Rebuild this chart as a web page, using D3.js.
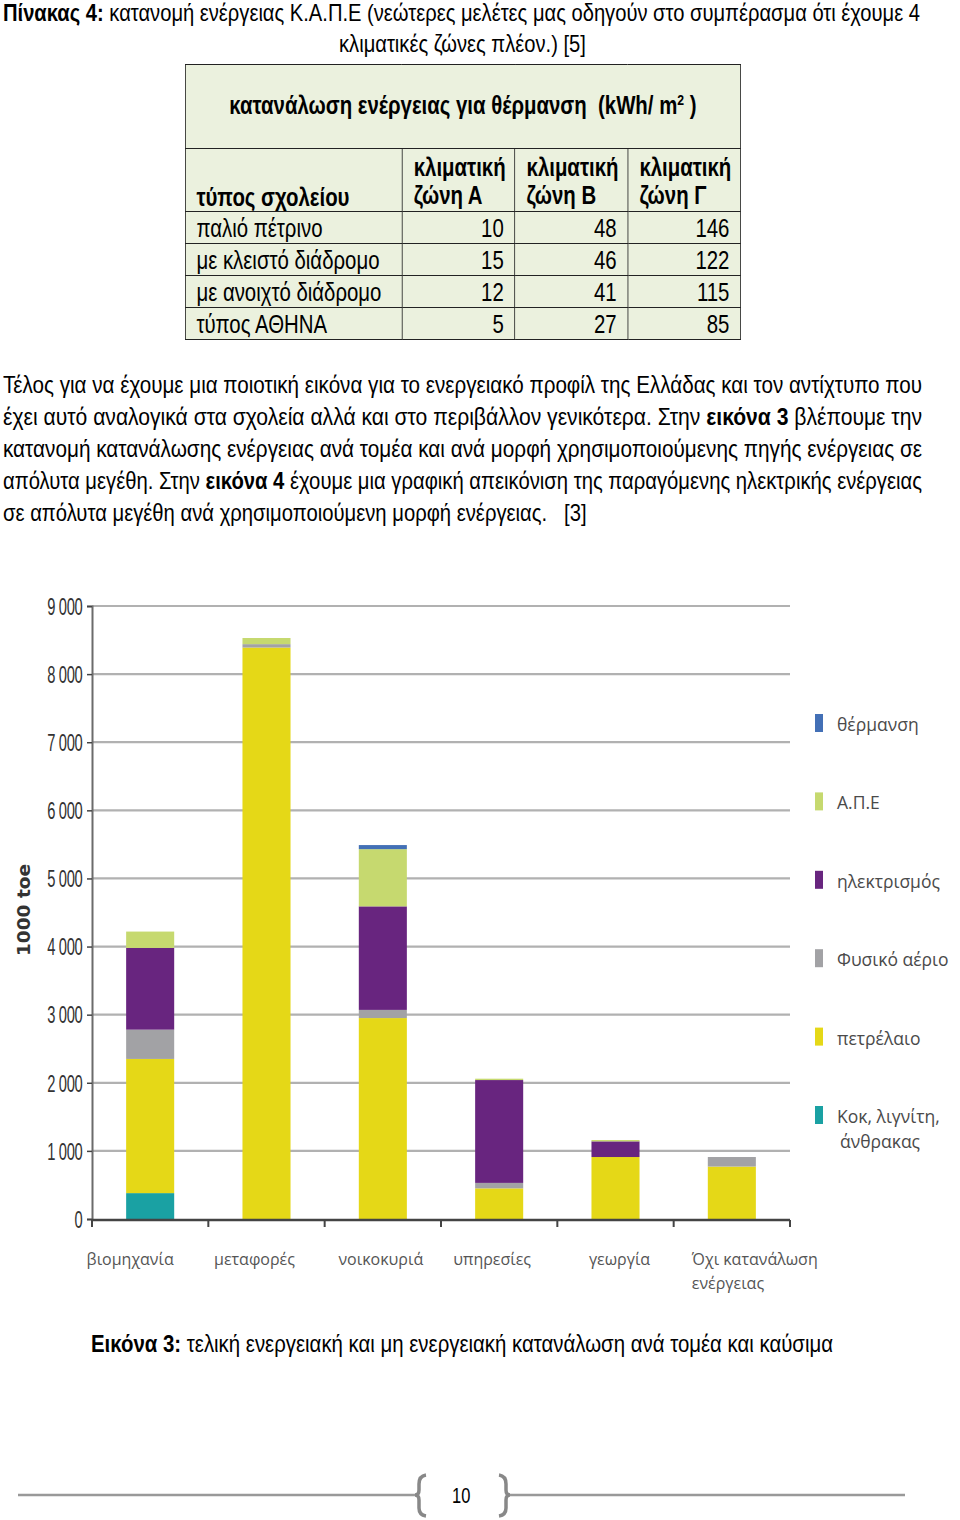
<!DOCTYPE html>
<html>
<head>
<meta charset="utf-8">
<script src="https://cdn.jsdelivr.net/npm/d3@7"></script>
<style>
body { margin:0; width:960px; height:1520px; position:relative; background:#fff; color:#000; overflow:hidden;
  font-family:"Liberation Sans",Arial,sans-serif; }
.line { position:absolute; white-space:nowrap; transform-origin:0 0; font-size:24px; line-height:30px; display:inline-block; }
.tbl { position:absolute; left:185px; top:64px; transform:scaleX(0.815); transform-origin:0 0; }
table { width:682px; border-collapse:collapse; background:#ebf1de; font-size:25px; }
td { border:1.5px solid #222; padding:0 13px; line-height:28px; white-space:nowrap; }
td.num { text-align:right; }
svg { position:absolute; left:0; top:0; }
</style>
</head>
<body>
<script>
// table 4 data
var schoolTypes = ["παλιό πέτρινο", "με κλειστό διάδρομο", "με ανοιχτό διάδρομο", "τύπος ΑΘΗΝΑ"];
var zoneHeads = ["ζώνη Α", "ζώνη Β", "ζώνη Γ"];
var zoneA = [10, 15, 12, 5];
var zoneB = [48, 46, 41, 27];
var zoneC = [146, 122, 115, 85];

// figure 3 data (1000 toe), stacked bottom to top
var sectors = ["βιομηχανία", "μεταφορές", "νοικοκυριά", "υπηρεσίες", "γεωργία", "Όχι κατανάλωση ενέργειας"];
var coal = [380, 0, 0, 0, 0, 0];
var oil = [1970, 8390, 2950, 450, 910, 770];
var gas = [430, 50, 120, 80, 0, 140];
var electricity = [1200, 0, 1520, 1510, 230, 0];
var renewables = [240, 90, 840, 20, 20, 0];
var heating = [0, 0, 60, 0, 0, 0];
var yTicks = [0, 1000, 2000, 3000, 4000, 5000, 6000, 7000, 8000, 9000];

var fuelKeys = ["coal", "oil", "gas", "electricity", "renewables", "heating"];
var fuelNames = ["Κοκ, λιγνίτη, άνθρακας", "πετρέλαιο", "Φυσικό αέριο", "ηλεκτρισμός", "Α.Π.Ε", "θέρμανση"];
var fuelColors = ["#1aa1a3", "#e5d817", "#a2a2a5", "#68257f", "#c6d96f", "#4370b6"];

var body = d3.select("body");

// squeeze a line of text so it fills the given width (word justified lines)
function addLine(html, left, top, target) {
  var s = body.append("span").attr("class", "line")
    .style("left", left + "px").style("top", top + "px").html(html);
  var w = s.node().getBoundingClientRect().width;
  if (target) s.style("transform", "scaleX(" + (target / w) + ")");
  return {sel: s, w: w, k: target ? target / w : 1};
}

// ---------- heading of table ----------
var t1 = addLine("<b>Πίνακας 4:</b> κατανομή ενέργειας Κ.Α.Π.Ε (νεώτερες μελέτες μας οδηγούν στο συμπέρασμα ότι έχουμε 4", 3, -2, 917);
var t2 = addLine("κλιματικές ζώνες πλέον.) [5]", 0, 29, null);
t2.sel.style("transform", "scaleX(" + t1.k + ")").style("left", (462 - t2.w * t1.k / 2) + "px");

// ---------- table ----------
var table = body.append("div").attr("class", "tbl").append("table");
table.append("tr").style("height", "84px")
  .append("td").attr("colspan", 4).style("text-align", "center").style("font-weight", "bold")
  .style("padding-bottom", "4px")
  .html("κατανάλωση ενέργειας για θέρμανση&nbsp; (kWh/ m<span style='font-size:15px;vertical-align:9px;line-height:0'>2</span> )");
var hr = table.append("tr").style("height", "63px").style("font-weight", "bold");
hr.append("td").style("vertical-align", "bottom").style("width", "240px").text("τύπος σχολείου");
hr.selectAll("td.z").data(zoneHeads).join("td").attr("class", "z")
  .style("vertical-align", "bottom").style("padding", "0 6px 2px 14px").style("width", "118px")
  .html(d => "κλιματική<br>" + d);
var rows = schoolTypes.map((s, i) => [s, zoneA[i], zoneB[i], zoneC[i]]);
table.selectAll("tr.r").data(rows).join("tr").attr("class", "r").style("height", "32px")
  .selectAll("td").data(d => d).join("td")
  .attr("class", (d, i) => i ? "num" : null)
  .text(d => d);

// ---------- paragraph ----------
var paraLines = [
  "Τέλος για να έχουμε μια ποιοτική εικόνα για το ενεργειακό προφίλ της Ελλάδας και τον αντίχτυπο που",
  "έχει αυτό αναλογικά στα σχολεία αλλά και στο περιβάλλον γενικότερα. Στην <b>εικόνα 3</b> βλέπουμε την",
  "κατανομή κατανάλωσης ενέργειας ανά τομέα και ανά μορφή χρησιμοποιούμενης πηγής ενέργειας σε",
  "απόλυτα μεγέθη. Στην <b>εικόνα 4</b> έχουμε μια γραφική απεικόνιση της παραγόμενης ηλεκτρικής ενέργειας",
  "σε απόλυτα μεγέθη ανά χρησιμοποιούμενη μορφή ενέργειας. &nbsp; [3]"
];
var ks = [];
paraLines.forEach(function(d, i) {
  var last = i == paraLines.length - 1;
  var l = addLine(d, 3, 370 + i * 32, last ? null : 919);
  if (!last) ks.push(l.k);
  else l.sel.style("transform", "scaleX(" + d3.min(ks) + ")");
});

// caption + page number
addLine("<b>Εικόνα 3:</b> τελική ενεργειακή και μη ενεργειακή κατανάλωση ανά τομέα και καύσιμα", 91, 1329, 742);
addLine("10", 452, 1481, 20).sel.style("font-size", "22px");

// ---------- chart ----------
var svg = body.append("svg").attr("width", 960).attr("height", 1520);

var x = d3.scaleBand().domain(sectors).range([92, 790]).paddingInner(0.587).paddingOuter(0.2935);
var y = d3.scaleLinear().domain([0, 9000]).range([1219, 606]);

// gridlines
svg.append("g").selectAll("line").data(yTicks.slice(1)).join("line")
  .attr("x1", 92).attr("x2", 790)
  .attr("y1", d => y(d)).attr("y2", d => y(d))
  .attr("stroke", "#b1b1b1").attr("stroke-width", 2.2);

// stacked bars
var table3 = sectors.map(function(s, i) {
  return {sector: s, coal: coal[i], oil: oil[i], gas: gas[i], electricity: electricity[i],
          renewables: renewables[i], heating: heating[i]};
});
var series = d3.stack().keys(fuelKeys)(table3);
svg.append("g").selectAll("g").data(series).join("g")
  .attr("fill", (d, i) => fuelColors[i])
  .selectAll("rect").data(d => d).join("rect")
  .attr("x", d => x(d.data.sector))
  .attr("width", x.bandwidth())
  .attr("y", d => y(d[1]))
  .attr("height", d => y(d[0]) - y(d[1]));

// y axis
var yAxis = svg.append("g").attr("transform", "translate(92,0)")
  .call(d3.axisLeft(y).tickValues(yTicks).tickSize(5).tickPadding(0)
    .tickFormat(d => d3.format(",")(d).replace(",", " ")));
yAxis.select(".domain").attr("stroke", "#6b6b6b").attr("stroke-width", 2);
yAxis.selectAll(".tick line").attr("stroke", "#444").attr("stroke-width", 1.5);
yAxis.selectAll(".tick text").attr("fill", "#333")
  .attr("x", -15).attr("dy", "0.36em")
  .attr("transform", "scale(0.64,1)")
  .style("font-family", "'Liberation Sans',Arial,sans-serif")
  .style("font-size", "23px").style("letter-spacing", "-0.5px");

svg.append("text")
  .attr("transform", "translate(30,910) rotate(-90)")
  .attr("text-anchor", "middle")
  .style("font-family", "'DejaVu Sans',sans-serif").style("font-weight", "bold")
  .style("font-size", "18.5px").attr("fill", "#333").text("1000 toe");

// x axis
var xAxis = svg.append("g").attr("transform", "translate(0,1220)");
xAxis.append("line").attr("x1", 92).attr("x2", 790).attr("stroke", "#444").attr("stroke-width", 2.4);
var bounds = sectors.map(s => x(s) - x.step() * x.paddingInner() / 2).concat([790]);
xAxis.selectAll("line.t").data(bounds).join("line").attr("class", "t")
  .attr("x1", d => d).attr("x2", d => d).attr("y1", 0).attr("y2", 7)
  .attr("stroke", "#444").attr("stroke-width", 2);

// label nudges, as placed in the original figure
var labelNudge = [-20, -12, -2, -7, 4, -16];
var xLab = svg.append("g").style("font-family", "'Open Sans',sans-serif")
  .style("font-size", "16px").attr("fill", "#555");
xLab.selectAll("text").data(sectors).join("text")
  .attr("x", (d, i) => i < 5 ? x(d) + x.bandwidth() / 2 + labelNudge[i] : x(d) + labelNudge[i])
  .attr("y", 1265)
  .attr("text-anchor", (d, i) => i < 5 ? "middle" : "start")
  .each(function(d, i) {
    var t = d3.select(this);
    if (i < 5) { t.text(d); return; }
    var w = d.split(" ");
    t.append("tspan").text(w[0] + " " + w[1]);
    t.append("tspan").attr("x", x(d) + labelNudge[i]).attr("dy", 24).text(w[2]);
  });

// legend (top to bottom: reverse of stack)
var legend = svg.append("g").style("font-family", "'Open Sans',sans-serif")
  .style("font-size", "17.5px").attr("fill", "#4a4a4a");
var legOrder = d3.range(fuelKeys.length).reverse();
var ly = d3.scalePoint().domain(legOrder).range([714, 1106]);
var leg = legend.selectAll("g").data(legOrder).join("g")
  .attr("transform", d => "translate(815," + ly(d) + ")");
leg.append("rect").attr("width", 8).attr("height", 18).attr("fill", d => fuelColors[d]);
leg.append("text").attr("x", 22).attr("y", 17)
  .each(function(d) {
    var t = d3.select(this);
    if (d) { t.text(fuelNames[d]); return; }
    t.append("tspan").text("Κοκ, λιγνίτη,");
    t.append("tspan").attr("x", 25).attr("dy", 25).text("άνθρακας");
  });

// page footer
var foot = svg.append("g");
foot.append("line").attr("x1", 18).attr("x2", 418).attr("y1", 1495).attr("y2", 1495)
  .attr("stroke", "#999").attr("stroke-width", 2.5);
foot.append("line").attr("x1", 507).attr("x2", 905).attr("y1", 1495).attr("y2", 1495)
  .attr("stroke", "#999").attr("stroke-width", 2.5);
foot.append("path")
  .attr("d", "M426,1475 Q419,1476 419,1484 L419,1490 Q419,1495 415,1495 Q419,1495 419,1500 L419,1508 Q419,1515 426,1516")
  .attr("fill", "none").attr("stroke", "#888").attr("stroke-width", 3.5);
foot.append("path")
  .attr("d", "M499,1475 Q506,1476 506,1484 L506,1490 Q506,1495 510,1495 Q506,1495 506,1500 L506,1508 Q506,1515 499,1516")
  .attr("fill", "none").attr("stroke", "#888").attr("stroke-width", 3.5);
</script>
</body>
</html>
